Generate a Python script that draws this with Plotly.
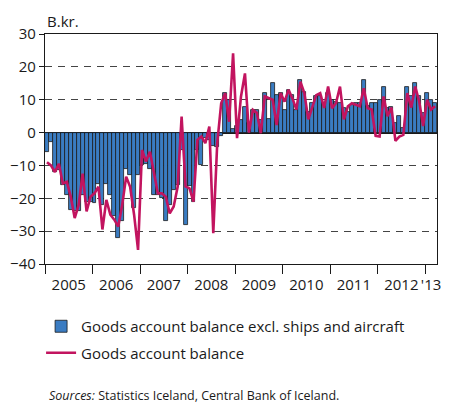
import plotly.graph_objects as go

# Monthly categories Jan 2005 - Mar 2013
months = [f"{y}-{m:02d}" for y in range(2005, 2014) for m in range(1, 13)][:99]

goods_excl_ships = [
    -6, -3, -12, -11.5, -16, -19, -23.5, -24, -24, -19, -21, -21,        # 2005
    -21.5, -15.5, -22, -15.5, -19, -25.5, -32, -27, -11, -13, -23, -13,  # 2006
    -10, -9.5, -11, -19, -19, -20, -27, -22, -17.5, -16, -5.3, -28,      # 2007
    -16.4, -21, -5.3, -9.8, -1.7, -2.2, -4, -4.3, -1, 12, 10, 1,         # 2008
    2, 3.9, 7.9, 3, 6.9, 6.9, 3.9, 12, 4, 15, 11.5, 12,                  # 2009
    6.9, 13, 11.5, 6.9, 16, 12.5, 6.4, 8.9, 11, 11, 8.9, 12,             # 2010
    10, 9.4, 9, 7.4, 6.4, 8.5, 9, 8.9, 16, 8, 8.9, 8.9,                  # 2011
    9.9, 14, 7.4, 7.9, 2.8, 4.9, 1.3, 14, 11, 15, 11, 5.9,               # 2012
    12, 9.9, 8.9,                                                         # 2013
]

goods_balance = [
    -9, -10, -12, -9.5, -15.5, -15, -19.5, -26, -22, -12.5, -24, -19.5,
    -18.5, -16.5, -29.5, -20.5, -25, -26.5, -28.6, -22, -13.4, -16.5, -25, -35.7,
    -5.3, -8.8, -5.8, -12, -18.5, -18.5, -19.5, -24.6, -22.5, -16.5, 4.9, -16.4,
    -17, -21, -2.2, -1.2, -3.2, 1.8, -30.6, -3.2, 8.9, 12, 3.3, 24.1,
    -1.7, 11, 18, 0, 6.9, 6, -0.2, 11, 10.4, 10, 2.3, 12,
    9.4, 13, 10.4, 7, 15.5, 12, 4, 7.4, 11.4, 12, 7.5, 14,
    7.4, 9, 14, 4, 8, 8.9, 8.4, 8, 13.5, 7.4, 7, -1,
    -1.2, 11, 5, 7.6, -2.5, -1.2, -0.7, 12, 7.6, 14, 9.5, 2,
    10, 7, 8,
]

year_labels = ["2005", "2006", "2007", "2008", "2009", "2010", "2011", "2012", "'13"]
year_label_pos = [5.5, 17.5, 29.5, 41.5, 53.5, 65.5, 77.5, 89.5, 97]
y_ticks = [30, 20, 10, 0, -10, -20, -30, -40]

x = list(range(len(months)))
FONT = "Open Sans"

fig = go.Figure()
fig.add_trace(go.Bar(
    x=x, y=goods_excl_ships, customdata=months,
    name="Goods account balance excl. ships and aircraft",
    marker=dict(color="#3a7cc2", line=dict(color="#1a1a1a", width=0.8)),
    legend="legend", showlegend=True,
))
fig.add_trace(go.Scatter(
    x=x, y=goods_balance, customdata=months, mode="lines",
    name="Goods account balance",
    line=dict(color="#c2145f", width=2.6),
    legend="legend2", showlegend=True,
))

fig.update_layout(
    width=449, height=405,
    margin=dict(l=45, r=8, t=34, b=141),
    paper_bgcolor="white", plot_bgcolor="white",
    bargap=0,
    showlegend=True,
    font=dict(family=FONT, size=15, color="#1a1a1a"),
    legend=dict(x=-0.01, y=-0.20, xanchor="left", yanchor="top",
                font=dict(size=15), bgcolor="rgba(0,0,0,0)", visible=True),
    legend2=dict(x=-0.01, y=-0.315, xanchor="left", yanchor="top",
                 font=dict(size=15), bgcolor="rgba(0,0,0,0)", visible=True),
    annotations=[
        dict(text="B.kr.", x=0, y=1.057, xref="paper", yref="paper",
             xanchor="left", yanchor="middle", showarrow=False,
             font=dict(size=15)),
        dict(text="<i>Sources:</i> Statistics Iceland, Central Bank of Iceland.",
             x=0.005, y=-0.57, xref="paper", yref="paper",
             xanchor="left", yanchor="middle", showarrow=False,
             font=dict(size=12.5)),
    ],
)

fig.update_xaxes(
    range=[-0.5, 98.5],
    tickvals=year_label_pos, ticktext=year_labels,
    ticks="outside", ticklen=7, tickcolor="rgba(0,0,0,0)",
    tickfont=dict(size=15),
    minor=dict(tick0=-0.5, dtick=12, ticks="outside", ticklen=9,
               tickcolor="#1a1a1a", tickwidth=1.2),
    showline=True, linecolor="#1a1a1a", linewidth=1.3, mirror=True,
    showgrid=False, zeroline=False,
)
fig.update_yaxes(
    range=[-40, 30], tickvals=y_ticks,
    ticks="outside", ticklen=5, tickcolor="#1a1a1a",
    tickfont=dict(size=15),
    showline=True, linecolor="#1a1a1a", linewidth=1.3, mirror=True,
    showgrid=True, gridcolor="#444444", gridwidth=1.3, griddash="7px,6px",
    zeroline=True, zerolinecolor="#1a1a1a", zerolinewidth=1.5,
)

fig.write_html("out.html",
               config={"displayModeBar": False},
               post_script="document.body.style.margin='0';document.body.style.padding='0';")
